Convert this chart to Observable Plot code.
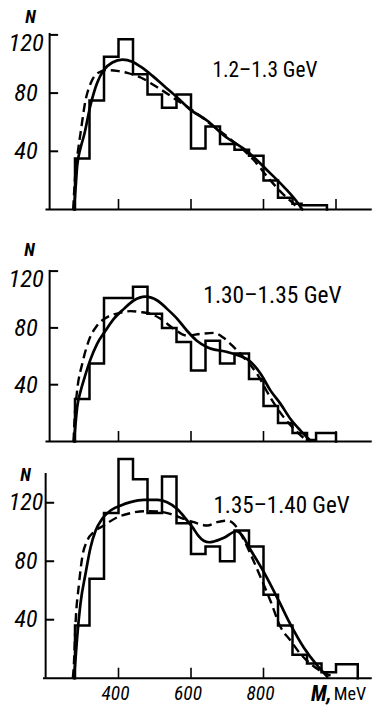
<!DOCTYPE html>
<html><head><meta charset="utf-8">
<script src="https://cdn.jsdelivr.net/npm/d3@7"></script>
<script src="https://cdn.jsdelivr.net/npm/@observablehq/plot@0.6"></script>
<style>
body{margin:0;background:#fff;}
#chart{position:relative;width:373px;height:706px;overflow:hidden;background:#fff;}
#chart svg{position:absolute;left:0;background:none;}
</style></head><body><div id="chart"></div>
<script>
// ---------- data ----------
const yTicks = [40, 80, 120];
const xTicksTop = [400, 600, 800, 1000];
const xTicksBottom = [400, 600, 800];
const xAxisLabel = ["M,", "MeV"];
const yAxisLabel = "N";
const panelLabels = ["1.2–1.3 GeV", "1.30–1.35 GeV", "1.35–1.40 GeV"];

// panel 1: 1.2–1.3 GeV
const hist1Edges = [280, 320, 360, 400, 440, 480, 520, 560, 600, 640, 680, 720, 760, 800, 840, 880, 905, 975];
const hist1Counts = [35, 75, 105, 117, 93, 79, 70, 79, 42, 57, 45, 41, 37, 20, 8, 4, 3];
const solid1M = [277, 282, 286, 295, 305, 323, 341, 360, 383, 411, 438, 465, 493, 525, 562, 599, 645, 690, 755, 810, 856, 893, 907];
const solid1N = [0, 16, 30, 42, 51, 72, 87, 96, 101, 103, 101.6, 97.5, 92, 85, 77, 68.5, 61, 51, 40, 27, 15.6, 5, 0];
const dash1M = [275, 281, 288, 295, 309, 323, 341, 369, 396, 424, 461, 507, 562, 608, 663, 718, 773, 819, 856, 884, 898];
const dash1N = [0, 25, 40, 52, 75, 86.6, 93.5, 95.8, 95.3, 93.9, 90.7, 84, 75, 67.5, 57, 46.5, 34, 20, 10, 3.7, 0];

// panel 2: 1.30–1.35 GeV
const hist2Edges = [280, 320, 360, 400, 440, 480, 520, 560, 600, 640, 680, 720, 760, 800, 840, 880, 920, 945, 1000];
const hist2Counts = [30, 55, 101, 101, 109, 90, 80, 70, 50, 71, 55, 62, 44, 25, 13, 6, 1, 6];
const solid2M = [277, 282, 286, 295, 304, 323, 341, 364, 387, 415, 442, 474, 507, 534, 562, 589, 616, 645, 700, 737, 755, 792, 819, 847, 874, 902, 930];
const solid2N = [0, 14, 24, 35, 43, 58, 68.8, 78, 86.4, 93.4, 99.3, 102, 99.3, 93.4, 86.4, 78, 71, 66.4, 63, 60, 58, 47.7, 36, 26.5, 16, 7.7, 0.5];
const dash2M = [276, 278, 286, 300, 318, 341, 369, 401, 433, 465, 488, 516, 553, 589, 626, 663, 690, 720, 746, 782, 819, 856, 893, 920];
const dash2N = [0, 12, 36, 54.7, 71, 81.7, 87.6, 90.4, 91.8, 91, 90, 86.4, 79.3, 74.6, 75.8, 76.5, 73, 66, 59, 47.7, 31, 17, 6.6, 0.5];

// panel 3: 1.35–1.40 GeV
const hist3Edges = [280, 320, 360, 400, 440, 480, 520, 560, 600, 640, 680, 720, 760, 800, 840, 880, 920, 960, 1000, 1060];
const hist3Counts = [36, 68, 113, 150, 136, 113, 138, 106, 85, 90, 80, 101, 90, 57, 36, 16, 10, 4, 9.5];
const solid3M = [277, 282, 286, 295, 309, 323, 337, 355, 378, 405, 433, 470, 507, 534, 562, 589, 605, 620, 635, 650, 663, 691, 725, 740, 760, 801, 842, 874, 911, 948, 976];
const solid3N = [0, 15, 28, 50.8, 71.4, 89.6, 101, 109, 114.7, 118, 120.4, 122, 122, 120.4, 115.8, 108, 103, 97.5, 94, 93, 93.5, 96, 100.5, 98, 89.6, 72.5, 53, 37, 21, 8.7, 1];
const dash3M = [274, 277, 281.4, 291, 300, 313.6, 332, 359.5, 396, 433, 470, 507, 543, 580, 608, 645, 672, 700, 718, 737, 764, 792, 819, 847, 874.5, 902, 930, 956, 985];
const dash3N = [0, 9.8, 37, 64.5, 82.8, 94, 100, 104.4, 110, 112.9, 114.2, 114, 112.4, 109, 106.7, 104.4, 106.7, 107.8, 105.6, 98.7, 85, 69, 53, 35, 25.8, 16.6, 9.8, 5.2, 1.8];

// ---------- font selection: face and width closest to the reference lettering ----------
const msvg = d3.select("body").append("svg").attr("width", 10).attr("height", 10)
  .style("position", "absolute").style("left", "-2000px").style("top", "0");
function measure(family, stretch, str, size, weight = "normal", style = "normal") {
  const t = msvg.append("text").attr("font-family", family).attr("font-size", size)
    .attr("font-weight", weight).attr("font-style", style).style("font-stretch", stretch).text(str);
  const w = t.node().getComputedTextLength();
  t.remove();
  return w;
}
// [text, weight, style, width in reference, size from letter height in reference]
const fitSamples = [
  ["1.2–1.3 GeV", "normal", "normal", 108, 20.5],
  ["1.30–1.35 GeV", "normal", "normal", 137, 23.8],
  ["1.35–1.40 GeV", "normal", "normal", 135, 23.4],
  ["120", "normal", "italic", 35, 25],
  ["80", "normal", "italic", 23, 25],
  ["400", "normal", "italic", 27, 21],
  ["MeV", "normal", "normal", 30, 21]
];
const families = ['"Liberation Sans Narrow"', '"Open Sans"', '"Noto Sans"', 'Roboto', 'Inter', '"DejaVu Sans Condensed"', '"Liberation Sans"', '"DejaVu Sans"'];
const stretches = ["62.5%", "70%", "75%", "80%", "87.5%", "100%"];
const monoW = measure("monospace", "normal", "1234567890 GeV", 100);
let best = {family: "sans-serif", stretch: "100%", err: Infinity};
for (const f of families) {
  if (Math.abs(measure(f + ", monospace", "100%", "1234567890 GeV", 100) - monoW) < 0.5 &&
      Math.abs(measure(f + ", monospace", "75%", "1234567890 GeV", 100) - monoW) < 0.5) continue;
  for (const s of stretches) {
    let err = 0;
    for (const [str, wt, st, W, S] of fitSamples) err += Math.log(measure(f + ", sans-serif", s, str, S, wt, st) / W) ** 2;
    if (err < best.err - 1e-6) best = {family: f, stretch: s, err};
  }
}
const FONT = best.family + ", sans-serif";
// balance the reference's letter height against its text width
function sizeFor(str, targetW, targetSize, weight = "normal", style = "normal", k = 0.6) {
  const w = measure(FONT, best.stretch, str, targetSize, weight, style);
  return targetSize * Math.min(1.04, Math.pow(targetW / w, k));
}

// ---------- drawing ----------
const panels = [
  {label: panelLabels[0], edges: hist1Edges, counts: hist1Counts, sM: solid1M, sN: solid1N, dM: dash1M, dN: dash1N,
   top: 0, height: 230, zero: 209, pxPerN: 1.455, axisM: 210, axisTop: 121, bracket: true, xTicks: xTicksTop,
   baseFrom: 200, labelM: 659, labelN: 95.5, labelW: 108, labelS: 20.5, tickS: 25, nM: 157, nN: 132, xLabels: false},
  {label: panelLabels[1], edges: hist2Edges, counts: hist2Counts, sM: solid2M, sN: solid2N, dM: dash2M, dN: dash2N,
   top: 230, height: 220, zero: 211, pxPerN: 1.42, axisM: 210, axisTop: 120.5, bracket: true, xTicks: xTicksTop,
   baseFrom: 200, labelM: 634, labelN: 102.8, labelW: 137, labelS: 23.8, tickS: 25, nM: 154.5, nN: 134.5, xLabels: false},
  {label: panelLabels[2], edges: hist3Edges, counts: hist3Counts, sM: solid3M, sN: solid3N, dM: dash3M, dN: dash3N,
   top: 450, height: 256, zero: 227.7, pxPerN: 1.462, axisM: 199, axisTop: 140, bracket: false, xTicks: xTicksBottom,
   baseFrom: 193, labelM: 662, labelN: 118, labelW: 135, labelS: 23.4, tickS: 23.4, nM: 143.4, nN: 138.6, xLabels: true}
];

const xTickSize = sizeFor("400", 27, 20.5, "normal", "italic");
const nSize = sizeFor("N", 11, 17, "bold", "italic");
const mSize = sizeFor("M,", 28, 20.5, "bold", "italic");
const mevSize = sizeFor("MeV", 30, 20.5);

const chart = document.getElementById("chart");
for (const P of panels) {
  const hist = [{x: P.edges[0], y: 0}, ...P.counts.map((n, i) => ({x: P.edges[i], y: n})), {x: P.edges[P.edges.length - 1], y: 0}];
  const solid = P.sM.map((m, i) => ({x: m, y: P.sN[i]}));
  const dash = P.dM.map((m, i) => ({x: m, y: P.dN[i]}));
  const yTickSize = sizeFor("120", 35, P.tickS, "normal", "italic");
  const tickFont = {fontFamily: FONT, fontStyle: "italic", fontSize: yTickSize, fill: "black"};
  const labelSize = sizeFor(P.label, P.labelW, P.labelS);
  const marks = [
    Plot.ruleY([0], {x1: P.baseFrom, x2: 1100, strokeWidth: 2}),
    Plot.ruleX([P.axisM], {y1: 0, y2: P.axisTop, strokeWidth: 2}),
    Plot.ruleY(yTicks, {x1: P.axisM, x2: P.axisM, insetRight: -9, strokeWidth: 2}),
    Plot.ruleX(P.xTicks, {y1: 0, y2: 0, insetBottom: 10, strokeWidth: 1.6}),
    Plot.line(hist, {x: "x", y: "y", curve: "step-after", strokeWidth: 2.5, strokeLinejoin: "miter", strokeLinecap: "square", strokeMiterlimit: 4}),
    Plot.line(dash, {x: "x", y: "y", curve: "monotone-x", strokeWidth: 2.4, strokeDasharray: "9,5", strokeLinecap: "butt"}),
    Plot.line(solid, {x: "x", y: "y", curve: "monotone-x", strokeWidth: 2.7}),
    Plot.text(yTicks.filter(t => !(P.bracket && t === 120)), {x: 145, y: d => d, text: d => String(d), textAnchor: "middle", lineAnchor: "middle", ...tickFont}),
    Plot.text(yTicks.filter(t => P.bracket && t === 120), {x: 145, y: d => d, text: d => String(d), textAnchor: "middle", lineAnchor: "middle", dy: 8, ...tickFont}),
    Plot.text([yAxisLabel], {x: P.nM, y: P.nN, text: d => d, fontFamily: FONT, fontStyle: "italic", fontWeight: "bold", fontSize: nSize, lineAnchor: "middle"}),
    Plot.text([P.label], {x: P.labelM, y: P.labelN, text: d => d, textAnchor: "start", lineAnchor: "middle", fontFamily: FONT, fontSize: labelSize, fill: "black"})
  ];
  if (P.xLabels) {
    marks.push(
      Plot.text(P.xTicks, {x: d => d, y: 0, dy: 16, dx: -3, text: d => String(d), lineAnchor: "middle", fontFamily: FONT, fontStyle: "italic", fontSize: xTickSize}),
      Plot.text([xAxisLabel[0]], {x: 988, y: 0, dy: 16, text: d => d, textAnchor: "end", lineAnchor: "middle", fontFamily: FONT, fontStyle: "italic", fontWeight: "bold", fontSize: mSize}),
      Plot.text([xAxisLabel[1]], {x: 994, y: 0, dy: 16, text: d => d, textAnchor: "start", lineAnchor: "middle", fontFamily: FONT, fontSize: mevSize})
    );
  }
  const svg = Plot.plot({
    width: 373,
    height: P.height,
    x: {domain: [200, 1100], range: [45.5, 371.75], axis: null},
    y: {domain: [0, 120], range: [P.zero, P.zero - 120 * P.pxPerN], axis: null},
    marks
  });
  svg.style.top = P.top + "px";
  svg.style.fontStretch = best.stretch;
  svg.style.background = "none";
  chart.appendChild(svg);
}
msvg.remove();
</script></body></html>
